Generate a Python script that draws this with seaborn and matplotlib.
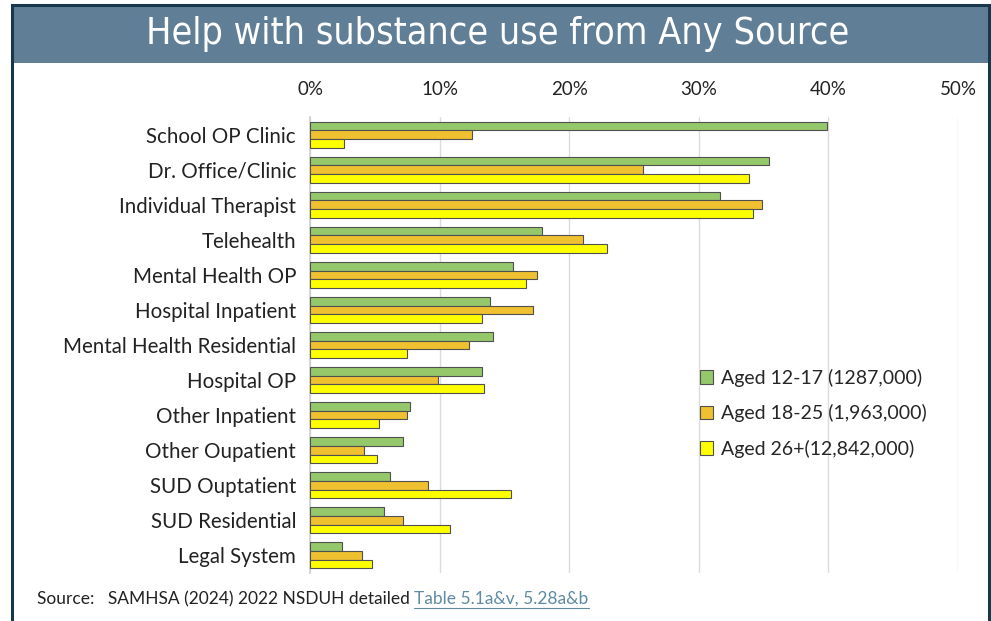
import pandas as pd
import matplotlib.pyplot as plt
import seaborn as sns
from matplotlib.patches import Rectangle

# 数据
categories = ['School OP Clinic', 'Dr. Office/Clinic', 'Individual Therapist', 'Telehealth',
              'Mental Health OP', 'Hospital Inpatient', 'Mental Health Residential',
              'Hospital OP', 'Other Inpatient', 'Other Oupatient', 'SUD Ouptatient',
              'SUD Residential', 'Legal System']
groups = ['Aged 12-17 (1287,000)', 'Aged 18-25 (1,963,000)', 'Aged 26+(12,842,000)']
aged_12_17 = [39.9, 35.4, 31.6, 17.9, 15.7, 13.9, 14.1, 13.3, 7.7, 7.2, 6.2, 5.7, 2.5]
aged_18_25 = [12.5, 25.7, 34.9, 21.1, 17.5, 17.2, 12.3, 9.9, 7.5, 4.2, 9.1, 7.2, 4.0]
aged_26_up = [2.6, 33.9, 34.2, 22.9, 16.7, 13.3, 7.5, 13.4, 5.3, 5.2, 15.5, 10.8, 4.8]
colors = ['#95c86a', '#efc02f', '#ffff00']

df = pd.DataFrame({
    'Source': categories * 3,
    'Group': [groups[0]] * 13 + [groups[1]] * 13 + [groups[2]] * 13,
    'Pct': aged_12_17 + aged_18_25 + aged_26_up,
})

sns.set_theme(style='white')
plt.rcParams['font.family'] = ['Lato', 'DejaVu Sans']

fig = plt.figure(figsize=(9.91, 6.21), dpi=100)

# 外框与标题栏
fig.patches.append(Rectangle((12 / 991, -0.01), 977 / 991, 1.01 - 5 / 621, transform=fig.transFigure,
                             facecolor='none', edgecolor='#17374a', linewidth=2.2, zorder=5))
fig.patches.append(Rectangle((13 / 991, 1 - 63 / 621), 975 / 991, 57 / 621, transform=fig.transFigure,
                             facecolor='#617e97', edgecolor='none', zorder=1))
fig.text(0.5025, 1 - 34 / 621, 'Help with substance use from Any Source', ha='center', va='center',
         color='white', fontsize=27, family='DejaVu Sans', fontstretch='condensed')

ax = fig.add_axes([310 / 991, 48 / 621, 648 / 991, 456 / 621])
ax.set_zorder(2)
sns.barplot(data=df, x='Pct', y='Source', hue='Group', palette=colors, orient='h', saturation=1,
            width=0.74, edgecolor='#505050', linewidth=0.8, ax=ax, zorder=3)

ax.set_xlim(0, 50)
ax.set_ylim(12.5, -0.5)
ax.xaxis.tick_top()
ax.set_xticks(range(0, 51, 10))
ax.set_xticklabels([f'{v}%' for v in range(0, 51, 10)], fontsize=13.5, color='#222222')
ax.tick_params(axis='x', length=0, pad=14)
ax.tick_params(axis='y', length=0, pad=10, labelsize=14.8, labelcolor='#222222')
ax.set_xlabel('')
ax.set_ylabel('')
ax.grid(axis='x', color='#dcdcdc', linewidth=1, zorder=0)
for side in ['top', 'right', 'bottom']:
    ax.spines[side].set_visible(False)
ax.spines['left'].set_color('#d0d0d0')

ax.legend(loc='upper left', bbox_to_anchor=((682 - 310) / 648, (573 - 351) / 456),
          frameon=False, fontsize=14, handlelength=0.7, handleheight=0.7,
          handletextpad=0.4, labelspacing=0.9)

# 来源说明
src = fig.text(37 / 991, 1 - 599 / 621, 'Source:   SAMHSA (2024) 2022 NSDUH detailed ', fontsize=12.5,
               va='center', color='#222222')
renderer = fig.canvas.get_renderer()
bb = src.get_window_extent(renderer)
link = fig.text(bb.x1 / 991, 1 - 599 / 621, 'Table 5.1a&v, 5.28a&b', fontsize=12.5,
                va='center', color='#5f8aa3')
lb = link.get_window_extent(renderer)
fig.add_artist(plt.Line2D([lb.x0 / 991, lb.x1 / 991], [(lb.y0 - 1) / 621] * 2, color='#5f8aa3',
                          linewidth=0.8))

fig.savefig('out.png', dpi=100)
